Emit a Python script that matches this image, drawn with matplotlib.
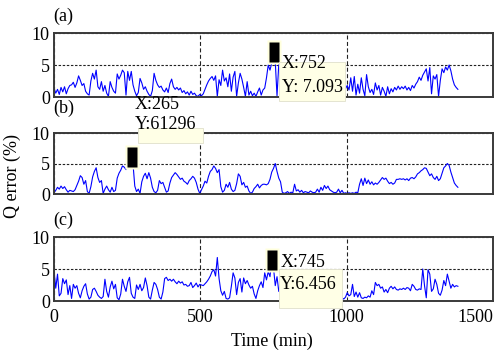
import numpy as np
import matplotlib
matplotlib.use('Agg')
import matplotlib.pyplot as plt
from matplotlib.patches import Rectangle
from matplotlib.transforms import Affine2D, ScaledTranslation

plt.rcParams['font.family'] = ['Liberation Serif', 'DejaVu Serif']
plt.rcParams['font.size'] = 13

# # # # Data # # # #
# recorded Q error, one value every 6 min
step = 6
time_min = np.arange(0, 1381, step)

err_a = [
    1.4, 0.6, 1.2, 0.4, 1.5, 0.8, 1.6, 0.5, 1.3, 1.8,
    1.9, 2.3, 1.5, 2.2, 3.3, 2.6, 1.8, 2.1, 0.9, 0.5,
    0.3, 2.5, 3.7, 2.8, 4.2, 1.6, 1.2, 2.4, 0.9, 1.8,
    0.6, 0.1, 2.4, 1.5, 0.9, 0.6, 3.6, 2.8, 3.4, 4.2,
    3.8, 0.3, 4.0, 2.6, 4.0, 1.9, 0.9, 0.2, 0.7, 2.9,
    2.2, 1.2, 1.6, 0.9, 0.4, 0.1, 1.0, 3.7, 2.6, 1.9,
    1.5, 1.7, 1.1, 0.8, 1.4, 0.7, 2.1, 2.8, 1.6, 1.2,
    1.5, 1.1, 1.4, 0.7, 1.0, 0.5, 0.8, 0.3, 0.9, 0.4,
    0.6, 0.2, 0.1, 0.4, 0.2, 0.5, 1.2, 1.9, 2.5, 2.9,
    3.2, 2.6, 3.3, 0.1, 2.7, 1.8, 4.2, 2.5, 3.0, 1.6,
    3.6, 0.9, 3.1, 4.0, 0.1, 2.2, 3.7, 2.8, 1.5, 0.1,
    2.4, 0.3, 0.9, 0.2, 0.6, 0.1, 0.8, 1.4, 0.3, 1.1,
    1.4, 3.0, 5.0, 4.2, 5.3, 7.0, 5.5, 0.2, 5.1, 3.0,
    2.2, 3.5, 1.0, 2.8, 0.4, 1.9, 3.1, 2.4, 0.8, 1.6,
    2.9, 1.3, 0.5, 2.1, 1.7, 3.3, 2.0, 0.9, 1.5, 2.6,
    1.8, 0.6, 1.2, 2.3, 1.0, 1.9, 0.7, 1.4, 2.0, 1.1,
    0.8, 1.5, 0.4, 1.2, 0.9, 1.6, 1.3, 1.8, 1.1, 3.0,
    0.9, 3.2, 0.3, 2.0, 0.6, 3.0, 1.2, 0.2, 3.5, 1.6,
    0.7, 1.2, 0.4, 2.2, 1.1, 1.8, 0.3, 1.5, 0.9, 0.1,
    1.6, 0.5, 1.3, 0.8, 1.5, 1.1, 1.7, 1.2, 1.6, 1.3,
    1.7, 1.1, 1.5, 1.0, 1.8, 1.4, 2.0, 2.4, 3.1, 2.6,
    3.4, 3.9, 4.4, 2.5, 4.6, 0.5, 3.3, 2.8, 3.5, 0.1,
    2.6, 4.4, 3.8, 4.7, 4.2, 5.0, 4.1, 2.8, 1.9, 1.5,
    1.2,
]

err_b = [
    0.2, 0.6, 1.1, 0.8, 1.3, 0.9, 1.2, 0.7, 0.3, 0.6,
    0.5, 0.4, 0.7, 1.4, 2.1, 3.0, 2.7, 1.6, 2.2, 0.4,
    0.1, 1.2, 2.8, 3.7, 4.3, 2.7, 1.9, 2.2, 0.1, 0.8,
    1.3, 0.7, 0.3, 1.1, 0.4, 0.6, 2.6, 3.4, 3.9, 4.6,
    4.4, 4.0, 4.7, 5.3, 6.1, 4.9, 1.3, 0.4, 0.8, 0.1,
    2.0, 2.9, 3.4, 2.5, 3.5, 2.6, 1.1, 0.4, 0.2, 0.6,
    2.2, 1.7, 1.9, 1.1, 0.3, 0.5, 1.8, 2.7, 3.1, 3.5,
    3.2, 2.8, 2.4, 2.6, 2.1, 1.9, 1.6, 2.2, 2.5, 2.9,
    2.6, 1.9, 0.8, 0.1, 0.7, 1.3, 2.1, 1.8, 2.9, 3.7,
    4.0, 4.6, 4.2, 3.5, 4.0, 1.2, 0.3, 0.6, 1.6, 1.1,
    1.9, 0.8, 0.4, 0.6, 1.7, 3.3, 2.9, 1.5, 1.9, 1.1,
    1.3, 0.5, 0.1, 0.3, 0.9, 1.2, 1.6, 1.0, 1.4, 1.6,
    1.6, 1.5, 1.7, 2.4, 3.6, 4.2, 5.0, 3.7, 2.6, 2.0,
    0.3, 0.1, 0.2, 0.4, 0.1, 0.3, 0.2, 1.6, 0.5, 0.7,
    0.3, 0.6, 0.2, 0.4, 0.3, 0.2, 0.5, 0.3, 0.2, 0.3,
    0.8, 0.3, 1.1, 0.6, 1.4, 0.9, 1.3, 0.7, 0.5, 0.3,
    0.2, 0.3, 0.8, 0.2, 0.6, 0.1, 0.2, 0.1, 0.2, 0.1,
    0.2, 0.1, 0.3, 0.2, 1.6, 2.5, 1.4, 2.6, 1.7, 2.3,
    1.6, 2.0, 1.5, 1.8, 1.6, 1.9, 2.3, 2.7, 2.4, 2.6,
    2.1, 1.7, 1.9, 1.6, 1.8, 2.4, 2.4, 2.5, 2.4, 2.5,
    2.3, 2.5, 2.2, 2.6, 2.7, 2.5, 2.8, 3.3, 3.5, 3.8,
    4.0, 4.3, 4.2, 3.6, 3.0, 3.3, 2.7, 2.4, 2.9, 2.2,
    2.5, 3.4, 4.3, 4.6, 5.0, 4.7, 3.6, 2.7, 1.8, 1.4,
    1.1,
]

err_c = [
    4.8, 2.0, 4.2, 0.8, 1.2, 3.5, 2.7, 3.3, 1.0, 2.4,
    0.4, 2.6, 2.0, 2.4, 1.2, 0.5, 1.6, 2.3, 2.7, 1.1,
    0.3, 0.6, 1.8, 2.0, 1.5, 0.9, 0.6, 0.4, 0.7, 3.4,
    1.5, 0.6, 2.2, 3.1, 1.9, 2.6, 0.5, 0.2, 1.1, 3.4,
    2.3, 1.5, 3.0, 3.7, 1.2, 0.6, 0.4, 2.5, 1.8, 2.6,
    1.6, 2.1, 3.6, 2.4, 0.6, 0.3, 1.7, 2.9, 2.6, 1.8,
    0.6, 0.3, 1.4, 3.5, 3.7, 3.2, 3.4, 3.1, 3.4, 3.0,
    2.7, 3.1, 2.8, 3.0, 2.5, 2.6, 2.3, 2.4, 2.9, 2.1,
    2.4, 2.8, 2.2, 2.6, 2.5, 2.4, 2.7, 3.0, 3.4, 3.9,
    4.6, 4.9, 3.9, 6.8, 3.5, 1.6, 0.9, 1.5, 0.4, 0.3,
    0.5, 2.3, 4.4, 3.6, 1.0, 2.9, 3.5, 1.4, 3.6, 2.7,
    3.2, 2.5, 2.0, 2.3, 1.1, 0.4, 1.6, 2.4, 3.0, 2.1,
    4.4, 3.3, 4.6, 3.8, 6.4, 5.2, 2.4, 3.8, 1.5, 2.9,
    2.1, 3.4, 1.2, 2.8, 0.6, 2.2, 3.0, 1.5, 2.5, 0.9,
    1.8, 2.7, 1.1, 0.5, 2.3, 1.6, 3.1, 2.0, 0.8, 1.4,
    2.2, 1.0, 0.4, 1.7, 1.2, 0.6, 1.5, 0.9, 0.3, 1.1,
    0.7, 0.4, 0.9, 0.2, 0.5, 0.3, 0.6, 1.3, 0.8, 1.0,
    2.6, 0.7, 1.4, 0.6, 1.3, 0.5, 0.4, 0.6, 0.5, 0.8,
    0.6, 1.6, 1.0, 2.9, 2.4, 2.6, 2.0, 2.2, 1.4, 1.8,
    1.3, 2.0, 2.3, 1.9, 2.2, 1.8, 1.7, 1.9, 1.8, 2.0,
    1.8, 2.1, 2.0, 1.6, 2.6, 2.3, 1.8, 1.7, 1.9, 1.8,
    5.0, 2.4, 0.5, 4.9, 4.2, 1.5, 1.9, 3.4, 2.6, 1.2,
    0.9, 1.7, 3.2, 2.4, 4.2, 3.1, 2.0, 2.6, 2.2, 2.4,
    2.3,
]

# data cursors shown on each panel
tip_a = (752, 7.093)
tip_b = (265, 6.1296)
tip_c = (745, 6.456)
tip_labels_a = ['X:752', 'Y: 7.093']
tip_labels_b = ['X:265', 'Y:61296']
tip_labels_c = ['X:745', 'Y:6.456']

x_ticks = [0, 500, 1000, 1500]
y_ticks = [0, 5, 10]
panel_names = ['(a)', '(b)', '(c)']

W, H = 494, 353
fig = plt.figure(figsize=(W / 100, H / 100), dpi=100)


def px_axes(left, top, right, bottom):
    return fig.add_axes([left / W, 1 - bottom / H, (right - left) / W, (bottom - top) / H])


# tall rectangular markers of the data cursor
cursor_marker = [(-0.53, -1), (0.53, -1), (0.53, 1), (-0.53, 1), (-0.53, -1)]
halo_marker = [(-0.65, -1), (0.65, -1), (0.65, 1), (-0.65, 1), (-0.65, -1)]


def data_tip(ax, tip, labels, box, text_x, text_dy):
    x, y = tip
    ax.plot([x], [y], marker=halo_marker, ms=16.6, color='#FFFFDC',
            mec='none', clip_on=False, zorder=5)
    ax.plot([x], [y], marker=cursor_marker, ms=13.7, color='black',
            mec='none', clip_on=False, zorder=6)
    # offsets in pixels from the cursor point
    at_tip = Affine2D() + ScaledTranslation(x, y, ax.transData)
    bx, by, bw, bh = box
    fig.add_artist(Rectangle((bx, by), bw, bh, transform=at_tip,
                             facecolor='#FFFFE6', edgecolor='#E4E4D0',
                             lw=0.7, zorder=3))
    for txt, dy in zip(labels, text_dy):
        fig.text(text_x, dy, txt, transform=at_tip, ha='left',
                 va='baseline', fontsize=13, zorder=4)


def style_panel(ax, series, show_x):
    ax.plot(time_min, series, color='#0000FF', lw=0.8, zorder=2)
    ax.set_xlim(0, 1500)
    ax.set_ylim(0, 10)
    ax.set_xticks(x_ticks)
    ax.set_yticks(y_ticks)
    ax.tick_params(length=0, labelsize=13)
    ax.tick_params(axis='y', pad=3)
    ax.tick_params(axis='x', pad=6)
    ax.xaxis.grid(True, color='#222222', lw=0.8, ls=(0, (3.6, 2.2)))
    ax.yaxis.grid(True, color='#222222', lw=0.8, ls=(0, (2.2, 1.5)))
    for sp in ax.spines.values():
        sp.set_linewidth(1.4)
        sp.set_color('#3a3a3a')
    if not show_x:
        ax.set_xticklabels([])


ax_a = px_axes(54, 33, 493, 97)
ax_b = px_axes(54, 133, 493, 194)
ax_c = px_axes(54, 237, 493, 301)

style_panel(ax_a, err_a, False)
style_panel(ax_b, err_b, False)
style_panel(ax_c, err_c, True)
ax_c.get_xticklabels()[-1].set_ha('right')

data_tip(ax_a, tip_a, tip_labels_a, (5.4, -49.4, 66, 39), 7.8, [-16.7, -40.1])
data_tip(ax_b, tip_b, tip_labels_b, (6.3, 13.6, 65, 15), 3.3, [47.3, 27.3])
data_tip(ax_c, tip_c, tip_labels_c, (6.5, -48.3, 63, 39), 8.2, [-7.6, -29.3])

for name, ypx in zip(panel_names, [16.5, 108.5, 220]):
    fig.text(53 / W, 1 - ypx / H, name, ha='left', va='center', fontsize=13)

fig.text(12 / W, 1 - 176 / H, 'Q error (%)', rotation=90, ha='center', va='center', fontsize=13)
fig.text(272 / W, 1 - 341 / H, 'Time (min)', ha='center', va='center', fontsize=13)

fig.savefig('out.png', dpi=100)
